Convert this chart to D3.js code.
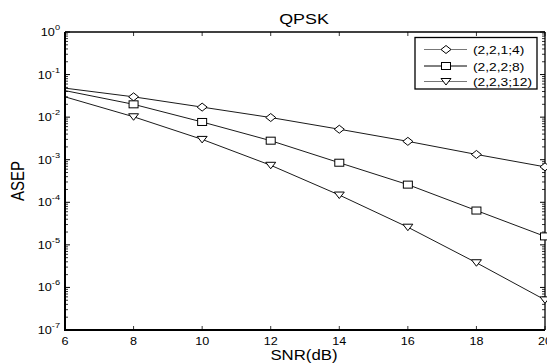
<!DOCTYPE html>
<html lang="en">
<head>
<meta charset="UTF-8">
<title>QPSK</title>
<script src="https://cdn.jsdelivr.net/npm/d3@7"></script>
<style>
    body {margin:0; background:#fff;}
    text {font-family: Arial, "Liberation Sans", sans-serif; fill:#000;}
</style>
</head>
<body>
<svg id="chart" width="547" height="363"></svg>
<script>
// values
var snr = [6, 8, 10, 12, 14, 16, 18, 20];
var ser1 = [0.048, 0.030, 0.0172, 0.0098, 0.0052, 0.0027, 0.00133, 0.00068];
var ser2 = [0.042, 0.020, 0.0077, 0.0028, 0.00085, 0.00026, 0.000064, 0.0000158];
var ser3 = [0.030, 0.0102, 0.0030, 0.00074, 0.000148, 0.000026, 0.0000038, 0.00000051];
var names = ["(2,2,1;4)", "(2,2,2;8)", "(2,2,3;12)"];
var xTicks = [6, 8, 10, 12, 14, 16, 18, 20];
var yExp = [0, -1, -2, -3, -4, -5, -6, -7];

var svg = d3.select("#chart");
var pLeft = 65, pRight = 545, pTop = 32, pBottom = 330;
var SX = 1.2; // the original figure is stretched sideways

var x = d3.scaleLinear().domain([6, 20]).range([pLeft, pRight]);
var y = d3.scaleLog().domain([1e-7, 1]).range([pBottom, pTop]);

// text helper, stretched horizontally like the source image
function txt(sel, px, py, str, size, anchor, sx) {
    return sel.append("text")
        .attr("transform", "translate(" + px + "," + py + ") scale(" + (sx || SX) + ",1)")
        .attr("text-anchor", anchor || "start")
        .style("font-size", size + "px")
        .text(str);
}

// minor ticks on the log axis (left + right, inward)
var minors = [];
for (var e = -7; e < 0; e++) {
    for (var m = 2; m <= 9; m++) minors.push(m * Math.pow(10, e));
}
var g = svg.append("g");
minors.forEach(function (v) {
    g.append("line").attr("x1", pLeft).attr("x2", pLeft + 3).attr("y1", y(v)).attr("y2", y(v))
        .attr("stroke", "#000").attr("stroke-width", 0.8);
    g.append("line").attr("x1", pRight).attr("x2", pRight - 3).attr("y1", y(v)).attr("y2", y(v))
        .attr("stroke", "#000").attr("stroke-width", 0.8);
});
yExp.forEach(function (e) {
    var v = Math.pow(10, e);
    g.append("line").attr("x1", pLeft).attr("x2", pLeft + 5).attr("y1", y(v)).attr("y2", y(v))
        .attr("stroke", "#000").attr("stroke-width", 1);
    g.append("line").attr("x1", pRight).attr("x2", pRight - 5).attr("y1", y(v)).attr("y2", y(v))
        .attr("stroke", "#000").attr("stroke-width", 1);
    var t = txt(g, 60, y(v) + 4, "", 11, "end", 1.15);
    t.append("tspan").text("10");
    t.append("tspan").attr("dy", -6).style("font-size", "8px").text(String(e));
});

// x ticks top and bottom
xTicks.forEach(function (v) {
    g.append("line").attr("x1", x(v)).attr("x2", x(v)).attr("y1", pBottom).attr("y2", pBottom - 4)
        .attr("stroke", "#000").attr("stroke-width", 0.8);
    g.append("line").attr("x1", x(v)).attr("x2", x(v)).attr("y1", pTop).attr("y2", pTop + 4)
        .attr("stroke", "#000").attr("stroke-width", 0.8);
    txt(g, x(v), 345, v, 10.5, "middle", 1.2);
});

// box
svg.append("line").attr("x1", pLeft).attr("x2", pRight).attr("y1", pTop).attr("y2", pTop)
    .attr("stroke", "#000").attr("stroke-width", 1.3);
svg.append("line").attr("x1", pRight).attr("x2", pRight).attr("y1", pTop).attr("y2", pBottom)
    .attr("stroke", "#000").attr("stroke-width", 1.3);
svg.append("line").attr("x1", pLeft).attr("x2", pLeft).attr("y1", pTop).attr("y2", pBottom + 1)
    .attr("stroke", "#000").attr("stroke-width", 2);
svg.append("line").attr("x1", pLeft - 1).attr("x2", pRight).attr("y1", pBottom).attr("y2", pBottom)
    .attr("stroke", "#000").attr("stroke-width", 2);

// markers
function marker(sel, kind, cx, cy) {
    if (kind === 0) {
        sel.append("path").attr("d", "M" + (cx - 5) + "," + cy + "L" + cx + "," + (cy - 4) +
            "L" + (cx + 5) + "," + cy + "L" + cx + "," + (cy + 4) + "Z")
            .attr("fill", "#fff").attr("stroke", "#000");
    } else if (kind === 1) {
        sel.append("rect").attr("x", cx - 4.5).attr("y", cy - 3.5).attr("width", 9).attr("height", 7)
            .attr("fill", "#fff").attr("stroke", "#000");
    } else {
        sel.append("path").attr("d", "M" + (cx - 5) + "," + (cy - 3) + "L" + (cx + 5) + "," + (cy - 3) +
            "L" + cx + "," + (cy + 3.5) + "Z")
            .attr("fill", "#fff").attr("stroke", "#000");
    }
}

var clip = svg.append("clipPath").attr("id", "clip");
clip.append("rect").attr("x", pLeft).attr("y", pTop).attr("width", pRight - pLeft + 6).attr("height", pBottom - pTop);

var plot = svg.append("g").attr("clip-path", "url(#clip)");
var line = d3.line().x(function (d, i) { return x(snr[i]); }).y(function (d) { return y(d); });
[ser1, ser2, ser3].forEach(function (s, k) {
    plot.append("path").datum(s).attr("d", line).attr("fill", "none")
        .attr("stroke", "#000").attr("stroke-width", 0.9);
    s.forEach(function (v, i) {
        if (i === 0) return;
        marker(plot, k, x(snr[i]), y(v));
    });
});

// legend
var lg = svg.append("g");
lg.append("rect").attr("x", 415).attr("y", 37.5).attr("width", 122).attr("height", 51.5)
    .attr("fill", "#fff").attr("stroke", "#000").attr("stroke-width", 1.3);
var rows = [49.5, 66, 81.5];
names.forEach(function (n, k) {
    lg.append("line").attr("x1", 424).attr("x2", 467).attr("y1", rows[k]).attr("y2", rows[k])
        .attr("stroke", k === 1 ? "#000" : "#777").attr("stroke-width", 1);
    marker(lg, k, 446, rows[k]);
    txt(lg, 473, rows[k] + 4.5, n, 11.5, "start", 1.2);
});

// titles
txt(svg, 304, 24, "QPSK", 14, "middle", 1.28);
txt(svg, 304, 360, "SNR(dB)", 14, "middle", 1.2);
svg.append("text").attr("transform", "translate(24,181) scale(1.2,1) rotate(-90)")
    .attr("text-anchor", "middle").style("font-size", "15px").text("ASEP");
</script>
</body>
</html>
